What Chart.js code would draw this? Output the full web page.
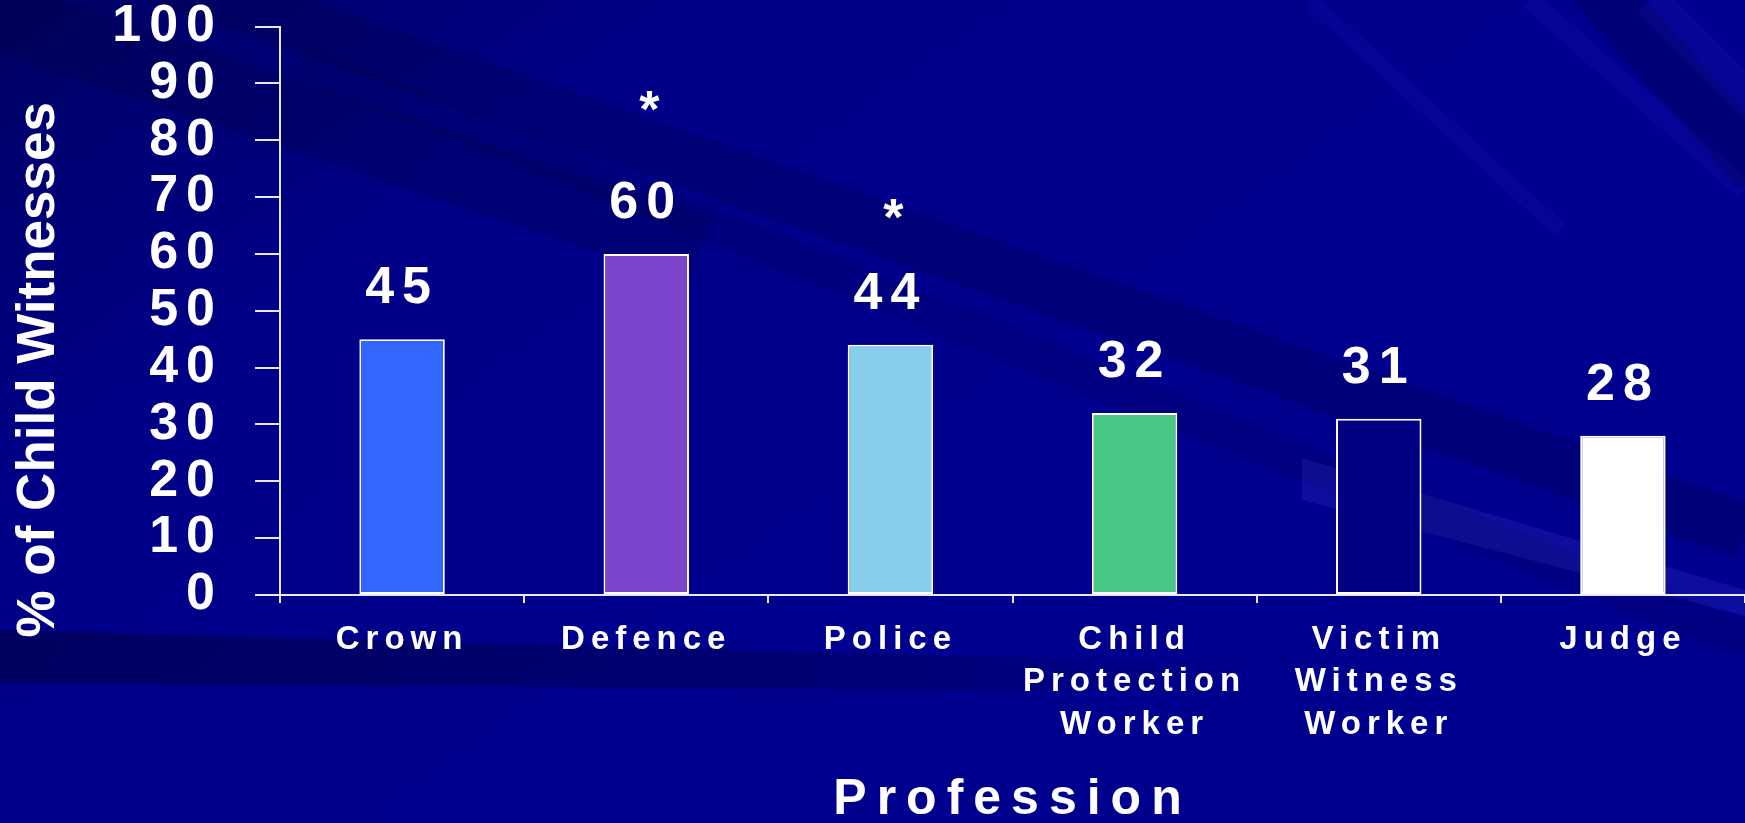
<!DOCTYPE html>
<html>
<head>
<meta charset="utf-8">
<script src="https://cdn.jsdelivr.net/npm/chart.js@4"></script>
<style>
html,body{margin:0;padding:0;background:#00008C;overflow:hidden}
#wrap{width:1745px;height:823px;position:relative}
canvas{display:block}
</style>
</head>
<body>
<div id="wrap"><canvas id="c" width="1745" height="823"></canvas></div>
<script>
// ---- data ----
const categories = ['Crown', 'Defence', 'Police', ['Child', 'Protection', 'Worker'], ['Victim', 'Witness', 'Worker'], 'Judge'];
const values = [45, 60, 44, 32, 31, 28];
const barColors = ['#3366FF', '#7B45CC', '#87CEEB', '#48C886', '#000080', '#FFFFFF'];
const asteriskValues = [null, 87, 68, null, null, null];
const yMin = 0, yMax = 100, yStep = 10;
const yTitle = '% of Child Witnesses';
const xTitle = 'Profession';

// ---- styling ----
const FAMILY = '"Liberation Sans", Arial, Helvetica, sans-serif';
const AXIS = '#E8E8F8';
const scaleText = {
  x: { labels: '6px', title: '10px', titleShift: 0 },
  y: { labels: '8px', title: '0px', titleShift: 59 }
};

const baseDrawLabels = Chart.Scale.prototype.drawLabels;
const baseDrawTitle = Chart.Scale.prototype.drawTitle;
Chart.Scale.prototype.drawLabels = function (area) {
  const s = scaleText[this.id] || { labels: '0px' };
  const ctx = this.ctx;
  ctx.save();
  ctx.letterSpacing = s.labels;
  baseDrawLabels.call(this, area);
  ctx.restore();
};
Chart.Scale.prototype.drawTitle = function () {
  const s = scaleText[this.id] || { title: '0px', titleShift: 0 };
  const ctx = this.ctx;
  ctx.save();
  ctx.letterSpacing = s.title;
  ctx.translate(0, s.titleShift);
  baseDrawTitle.call(this);
  ctx.restore();
};

const background = {
  id: 'bg',
  beforeDraw(chart) {
    const c = chart.ctx, W = chart.width, H = chart.height;
    c.save();
    const g = c.createLinearGradient(0, 0, W * 0.3, H * 0.9);
    g.addColorStop(0, '#000064');
    g.addColorStop(0.45, '#000087');
    g.addColorStop(1, '#00008E');
    c.fillStyle = g;
    c.fillRect(0, 0, W, H);
    const line = (x0, y0, x1, y1, w, col) => {
      c.beginPath(); c.moveTo(x0, y0); c.lineTo(x1, y1);
      c.lineWidth = w; c.strokeStyle = col; c.stroke();
    };
    // dark diagonal bands
    line(-50, 0, 700, 250, 70, 'rgba(0,0,40,0.18)');
    line(0, -80, 1745, 531, 55, 'rgba(0,0,40,0.18)');
    line(300, 60, 1745, 640, 35, 'rgba(0,0,40,0.12)');
    line(1590, -20, 1760, 170, 55, 'rgba(0,0,40,0.22)');
    // light streaks
    line(1310, 0, 1560, 230, 16, 'rgba(60,60,255,0.07)');
    line(1530, 0, 1745, 190, 20, 'rgba(60,60,255,0.07)');
    line(1650, 0, 1760, 110, 36, 'rgba(60,60,255,0.08)');
    // bottom-left dark band
    const gb = c.createLinearGradient(0, 0, 1250, 0);
    gb.addColorStop(0, 'rgba(0,0,40,0.42)');
    gb.addColorStop(0.7, 'rgba(0,0,40,0.25)');
    gb.addColorStop(1, 'rgba(0,0,40,0)');
    c.fillStyle = gb;
    c.beginPath(); c.moveTo(0, 630); c.lineTo(1250, 664); c.lineTo(1250, 692); c.lineTo(0, 683); c.closePath(); c.fill();
    // light bottom-right streak
    c.fillStyle = 'rgba(90,90,255,0.14)';
    c.beginPath(); c.moveTo(1302, 458); c.lineTo(1745, 590); c.lineTo(1745, 616); c.lineTo(1302, 500); c.closePath(); c.fill();
    c.restore();
  }
};

const valueLabels = {
  id: 'valueLabels',
  afterDatasetsDraw(chart) {
    const ctx = chart.ctx;
    const meta = chart.getDatasetMeta(0);
    const y = chart.scales.y;
    ctx.save();
    ctx.fillStyle = '#FFFFFF';
    ctx.font = 'bold 52px ' + FAMILY;
    ctx.textAlign = 'center';
    ctx.textBaseline = 'alphabetic';
    meta.data.forEach((bar, i) => {
      ctx.letterSpacing = '8px';
      ctx.fillText(String(values[i]), bar.x, bar.y - 36);
      if (asteriskValues[i] != null) {
        ctx.letterSpacing = '0px';
        ctx.fillText('*', bar.x + 3, y.getPixelForValue(asteriskValues[i]) + 27);
      }
    });
    ctx.restore();
  }
};

new Chart(document.getElementById('c'), {
  type: 'bar',
  data: {
    labels: categories,
    datasets: [{
      data: values,
      backgroundColor: barColors,
      borderColor: '#FFFFFF',
      borderWidth: 2,
      borderSkipped: false,
      barPercentage: 0.35,
      categoryPercentage: 1
    }]
  },
  options: {
    responsive: false,
    animation: false,
    devicePixelRatio: 1,
    layout: { padding: { top: 0, left: 0, right: 0, bottom: 0 } },
    plugins: { legend: { display: false }, tooltip: { enabled: false } },
    scales: {
      x: {
        grid: { drawOnChartArea: false, drawTicks: true, tickLength: 8, color: AXIS, lineWidth: 2, offset: true },
        border: { display: true, color: AXIS, width: 2 },
        ticks: { color: '#FFFFFF', font: { family: FAMILY, size: 33, weight: 'bold', lineHeight: 1.3 }, padding: 15, maxRotation: 0, minRotation: 0, autoSkip: false },
        title: { display: true, text: xTitle, color: '#FFFFFF', font: { family: FAMILY, size: 50, weight: 'bold', lineHeight: 0.92 }, padding: 0 },
        afterFit(s) { s.height = 228; }
      },
      y: {
        min: yMin, max: yMax,
        ticks: { stepSize: yStep, autoSkip: false, color: '#FFFFFF', font: { family: FAMILY, size: 52, weight: 'bold', lineHeight: 1 }, padding: 32 },
        grid: { drawOnChartArea: false, tickLength: 25, color: AXIS, lineWidth: 2 },
        border: { display: true, color: AXIS, width: 2 },
        title: { display: true, text: yTitle, color: '#FFFFFF', font: { family: FAMILY, size: 53, weight: 'bold', lineHeight: 1.2 }, padding: { top: 8, bottom: 0 } },
        afterFit(s) { s.width = 280; s.paddingTop = 26.5; s.paddingBottom = 0; }
      }
    }
  },
  plugins: [background, valueLabels]
});
</script>
</body>
</html>
